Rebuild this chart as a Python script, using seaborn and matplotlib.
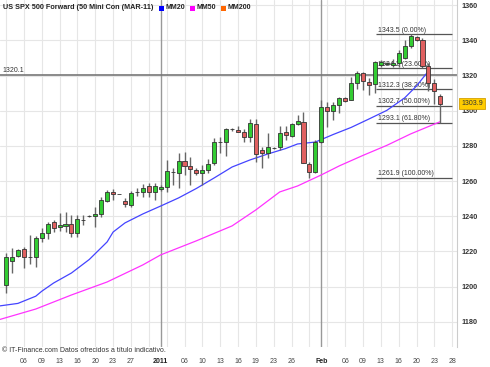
import matplotlib
matplotlib.use("Agg")
import matplotlib.pyplot as plt
import matplotlib.transforms as mtransforms
from matplotlib.patches import Rectangle
import numpy as np
import pandas as pd
import seaborn as sns

# ---------------- data ----------------
opens = [1200.9, 1214.6, 1217.6, 1221.2, 1216.7, 1216.7, 1227.5, 1230.3, 1236.9, 1233.7,
         1234.5, 1235.6, 1230.3, 1237.9, 1240.1, 1240.1, 1241.3, 1248.9, 1254.0, 1252.7,
         1248.9, 1246.4, 1253.6, 1253.6, 1257.2, 1254.0, 1255.5, 1256.5, 1265.2, 1264.4,
         1271.4, 1268.8, 1266.3, 1264.8, 1266.3, 1270.1, 1282.4, 1282.1, 1289.4, 1289.1,
         1288.1, 1284.9, 1292.5, 1277.7, 1275.8, 1279.0, 1279.2, 1287.9, 1285.7, 1292.5,
         1293.8, 1269.6, 1265.3, 1282.4, 1302.0, 1299.9, 1303.3, 1307.1, 1306.1, 1315.6,
         1321.3, 1316.5, 1315.2, 1326.0, 1326.6, 1326.0, 1327.0, 1330.2, 1337.0, 1341.8,
         1340.3, 1325.5, 1315.5, 1308.5]
closes = [1216.8, 1216.9, 1220.8, 1216.7, 1216.9, 1227.5, 1230.3, 1235.6, 1233.5, 1235.0,
          1235.6, 1230.3, 1238.3, 1237.9, 1240.1, 1241.3, 1249.2, 1254.0, 1252.5, 1252.7,
          1246.8, 1253.4, 1253.6, 1255.9, 1254.0, 1257.4, 1256.8, 1265.7, 1265.2, 1271.6,
          1268.8, 1266.9, 1264.8, 1266.3, 1269.7, 1282.1, 1282.4, 1289.6, 1289.4, 1288.1,
          1284.9, 1292.9, 1275.4, 1275.8, 1279.6, 1279.0, 1287.2, 1286.0, 1292.5, 1294.4,
          1270.5, 1265.3, 1282.4, 1302.0, 1299.7, 1303.3, 1307.1, 1305.7, 1316.0, 1321.3,
          1317.1, 1314.7, 1327.6, 1327.9, 1327.3, 1327.3, 1332.7, 1337.0, 1342.8, 1340.5,
          1325.6, 1316.0, 1311.0, 1303.9]
highs = [1219.0, 1222.0, 1221.2, 1222.7, 1229.3, 1228.8, 1233.2, 1236.9, 1237.9, 1242.0,
         1242.6, 1240.7, 1240.7, 1240.7, 1240.6, 1245.4, 1251.1, 1255.0, 1255.3, 1252.9,
         1250.2, 1254.5, 1255.9, 1258.3, 1259.1, 1258.7, 1258.0, 1272.0, 1267.3, 1276.2,
         1276.7, 1273.9, 1267.3, 1269.2, 1272.4, 1284.3, 1284.9, 1290.0, 1290.2, 1291.3,
         1289.5, 1295.2, 1295.2, 1279.6, 1287.2, 1279.6, 1291.3, 1291.3, 1292.9, 1297.6,
         1299.5, 1271.0, 1283.4, 1306.1, 1305.2, 1305.2, 1308.0, 1307.8, 1319.4, 1322.8,
         1322.2, 1318.5, 1328.5, 1328.9, 1327.8, 1329.3, 1334.6, 1340.3, 1343.5, 1342.5,
         1341.5, 1327.0, 1318.0, 1309.5]
lows = [1196.3, 1207.7, 1217.0, 1210.4, 1213.0, 1211.3, 1225.5, 1226.9, 1231.2, 1231.8,
        1231.2, 1228.0, 1228.0, 1235.0, 1239.6, 1234.0, 1239.8, 1248.3, 1249.2, 1252.5,
        1245.4, 1245.1, 1251.5, 1251.1, 1250.8, 1249.2, 1254.5, 1254.0, 1257.8, 1255.9,
        1263.5, 1257.8, 1263.5, 1257.8, 1264.8, 1269.2, 1275.8, 1274.3, 1288.6, 1288.1,
        1282.4, 1282.4, 1271.0, 1267.3, 1273.0, 1278.4, 1277.7, 1283.4, 1285.3, 1291.9,
        1270.1, 1261.9, 1264.8, 1281.8, 1290.9, 1294.8, 1298.6, 1305.0, 1306.1, 1312.2,
        1311.8, 1309.0, 1310.0, 1325.1, 1326.2, 1324.7, 1325.1, 1329.3, 1335.5, 1339.5,
        1324.5, 1311.0, 1304.0, 1293.2]

mm20_bar = [-1, 2, 5, 6, 8, 11, 14, 17, 18, 20, 23, 26, 29, 32, 35, 38, 41, 44, 47, 49,
            52, 55, 58, 61, 64, 67, 69, 71]
mm20 = [1189.0, 1190.4, 1194.5, 1197.3, 1202.0, 1207.7, 1215.4, 1225.4, 1231.0, 1236.2,
        1241.3, 1245.8, 1250.4, 1255.8, 1261.8, 1268.0, 1272.0, 1275.4, 1278.5, 1281.1,
        1282.2, 1286.5, 1290.5, 1295.3, 1300.2, 1307.3, 1314.1, 1322.6]

mm50_bar = [-1, 5, 11, 17, 23, 26, 32, 38, 42, 46, 49, 53, 56, 60, 64, 68, 73]
mm50 = [1181.3, 1187.2, 1195.2, 1202.6, 1212.3, 1218.0, 1226.0, 1234.5, 1243.6, 1253.8,
        1257.2, 1263.5, 1268.6, 1274.6, 1280.3, 1286.8, 1293.8]

tick_bars = [3, 6, 9, 12, 15, 18, 21, 26, 30, 33, 36, 39, 42, 45, 48, 53, 57, 60, 63, 66, 69, 72, 75]
tick_labels = ["06", "09", "13", "16", "20", "23", "27", "2011", "06", "10", "13", "16",
               "19", "23", "26", "Feb", "06", "09", "13", "16", "20", "23", "28"]
bold_labels = ["2011", "Feb"]
separator_bars = [26, 53]

fib_levels = [1343.5, 1324.2, 1312.3, 1302.7, 1293.1, 1261.9]
fib_pcts = ["0.00%", "23.60%", "38.20%", "50.00%", "61.80%", "100.00%"]
ref_level = 1320.1
last_price = 1303.9
y_ticks = [1180, 1200, 1220, 1240, 1260, 1280, 1300, 1320, 1340, 1360]

title = "US SPX 500 Forward (50 Mini Con (MAR-11)"
legend_names = ["MM20", "MM50", "MM200"]
legend_colors = ["#0000ff", "#ff00ff", "#ff6600"]
footer = "\u00a9 IT-Finance.com Datos ofrecidos a t\u00edtulo indicativo."

# ---------------- figure ----------------
sns.set_style("white")
plt.rcParams["font.family"] = ["Liberation Sans", "DejaVu Sans"]

W, H = 490, 367
fig = plt.figure(figsize=(W / 100, H / 100), dpi=100)
ax_bottom_px = 347
ax = fig.add_axes([0, (H - ax_bottom_px) / H, 457 / W, ax_bottom_px / H])

ax.set_xlim(-1.01, 75.8)
ax.set_ylim(1165.6, 1363.0)

# grid
for v in y_ticks:
    ax.axhline(v, color="#e6e6e6", lw=0.8, zorder=0)
for b in range(0, 76, 3):
    ax.axvline(b, color="#e6e6e6", lw=0.8, zorder=0)
for b in separator_bars:
    ax.axvline(b, color="#999999", lw=1.0, zorder=0.5)

# reference line
ax.axhline(ref_level, color="#777777", lw=1.2, zorder=1)
ax.text(-0.55, ref_level + 0.6, f"{ref_level:.1f}", fontsize=5, color="#333333",
        ha="left", va="bottom", zorder=1)

# fibonacci levels
ax.hlines(fib_levels, 62.2, 75.0, color="#555555", lw=0.9, zorder=1)
for lvl, pct in zip(fib_levels, fib_pcts):
    ax.text(62.6, lvl + 0.3, f"{lvl:.1f} ({pct})", fontsize=5, color="#333333",
            ha="left", va="bottom", zorder=1)

# moving averages
sns.lineplot(x=mm20_bar, y=mm20, ax=ax, color="#4444ff", lw=0.9, zorder=2)
sns.lineplot(x=mm50_bar, y=mm50, ax=ax, color="#ff33ff", lw=0.9, zorder=2)

# candles
df = pd.DataFrame({"o": opens, "h": highs, "l": lows, "c": closes})
df["i"] = np.arange(len(df))
body_lo = np.minimum(df["o"], df["c"])
body_h = np.abs(df["c"] - df["o"])
colors = np.where(df["c"] > df["o"], "#33cc33", np.where(df["c"] < df["o"], "#e06060", "#222222"))
ax.vlines(df["i"], df["l"], df["h"], color="#666666", lw=1.0, zorder=3)
ax.bar(df["i"], body_h, bottom=body_lo, width=0.68, color=colors, edgecolor="#333333",
       linewidth=0.6, zorder=4)

# spines
for s in ["top", "left", "bottom"]:
    ax.spines[s].set_visible(False)
ax.spines["right"].set_color("#cccccc")
ax.spines["right"].set_linewidth(0.8)

# y axis on the right
ax.yaxis.tick_right()
ax.set_yticks(y_ticks)
ax.set_yticklabels([str(v) for v in y_ticks], fontsize=5.2, fontweight="bold", color="#333333")
ax.tick_params(axis="y", length=0, pad=3)

# x axis
ax.set_xticks(tick_bars)
ax.set_xticklabels(tick_labels, fontsize=5, color="#444444")
for lab in ax.get_xticklabels():
    if lab.get_text() in bold_labels:
        lab.set_fontweight("bold")
        lab.set_color("#222222")
ax.tick_params(axis="x", length=0, pad=8)
ax.set_xlabel("")
ax.set_ylabel("")

# last price tag
trans = mtransforms.blended_transform_factory(ax.transAxes, ax.transData)
ax.text(1.0 + 4 / 457, last_price, f"{last_price:.1f}", transform=trans, fontsize=5,
        color="#333333", ha="left", va="center", clip_on=False, zorder=10,
        bbox=dict(boxstyle="square,pad=0.3", fc="#ffcc00", ec="#d4a000", lw=0.6))

# title and legend
fig.text(3 / W, 1 - 7.5 / H, title, fontsize=5.2, fontweight="bold", color="#222222",
         ha="left", va="center")
leg_x = [159, 190, 221]
for x0, name, col in zip(leg_x, legend_names, legend_colors):
    fig.add_artist(Rectangle((x0 / W, 1 - 10.5 / H), 5 / W, 5 / H, transform=fig.transFigure,
                             facecolor=col, edgecolor="none"))
    fig.text((x0 + 6) / W, 1 - 7.5 / H, name, fontsize=5, fontweight="bold", color="#222222",
             ha="left", va="center")

fig.text(2 / W, (H - 351) / H, footer, fontsize=5, color="#333333", ha="left", va="center")

fig.savefig("out.png", dpi=100)
